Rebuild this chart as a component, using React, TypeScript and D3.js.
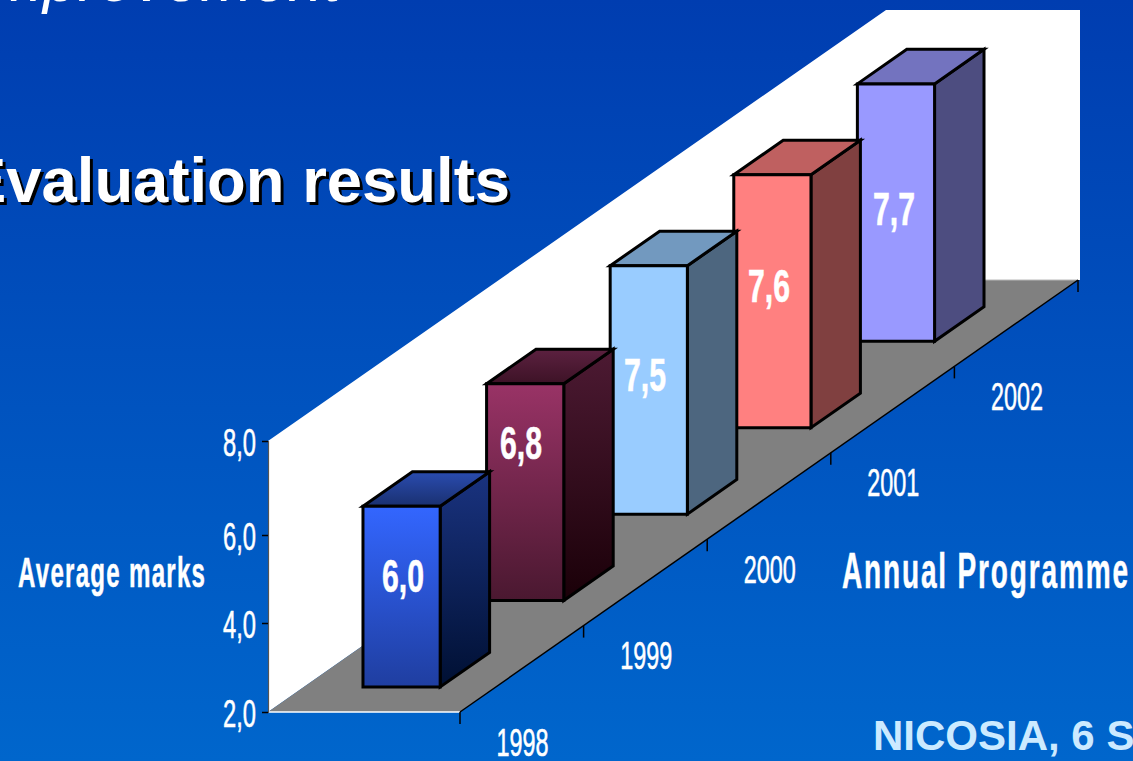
import * as d3 from "d3";
import { useEffect, useRef } from "react";

const WIDTH = 1133;
const HEIGHT = 761;

const YEARS = ["1998", "1999", "2000", "2001", "2002"];
const MARKS = [6.0, 6.8, 7.5, 7.6, 7.7];
const MARK_TICKS = [2, 4, 6, 8];

// front, side and top shades of each bar, [start, end] top to bottom
const FRONT_SHADES = [
  ["#3366ff", "#1f3ea0"],
  ["#993366", "#4a1830"],
  ["#99ccff", "#99ccff"],
  ["#ff8080", "#ff8080"],
  ["#9999ff", "#9999ff"],
];
const SIDE_SHADES = [
  ["#1a3380", "#001033"],
  ["#4d1a33", "#1a0008"],
  ["#4d667f", "#4d667f"],
  ["#804040", "#804040"],
  ["#4d4d80", "#4d4d80"],
];
const TOP_SHADES = [
  ["#2a4cb0", "#1a3070"],
  ["#5c2140", "#3d1226"],
  ["#7299bf", "#7299bf"],
  ["#bf6060", "#bf6060"],
  ["#7373bf", "#7373bf"],
];

// hand placed in the original slide, so not centred on the bars
const LABEL_CENTERS = [403, 521, 645, 769, 894];
const LABEL_BASELINES = [592, 459, 391, 302, 225];

const floorFront = { left: 268, right: 460, y: 712 };
const depth = { dx: 618, dy: -432 };

export default function App() {
  const ref = useRef<SVGSVGElement>(null);

  useEffect(() => {
    if (!ref.current) return;
    const svg = d3.select(ref.current);
    svg.selectAll("*").remove();

    // the printed axis is slightly uneven, the bars follow the straight scale
    const yAxisScale = d3.scaleLinear().domain(MARK_TICKS).range([712, 623, 535, 441]);
    const y = d3.scaleLinear().domain([2, 8]).range([0, 271]);
    const across = d3.scaleLinear().domain([0, 1]).range([0, floorFront.right - floorFront.left]);
    const along = d3
      .scaleBand()
      .domain(YEARS)
      .range([-0.002, 0.998])
      .paddingInner(0.6)
      .paddingOuter(0.3);
    const step = d3.scaleLinear().domain([0, YEARS.length]).range([0, 1]);

    // u across the floor, v into the depth, h height in px
    const project = (u: number, v: number, h = 0): [number, number] => [
      floorFront.left + across(u) + v * depth.dx,
      floorFront.y + v * depth.dy - h,
    ];
    const poly = (pts: [number, number][]) => d3.line()(pts) + "Z";

    const defs = svg.append("defs");
    const gradient = (id: string, stops: string[]) => {
      const g = defs.append("linearGradient").attr("id", id).attr("x1", 0).attr("x2", 0).attr("y1", 0).attr("y2", 1);
      stops.forEach((c, i) => g.append("stop").attr("offset", i).attr("stop-color", c));
    };
    gradient("bg", ["#003db0", "#0066cc"]);
    MARKS.forEach((_, i) => {
      gradient(`front${i}`, FRONT_SHADES[i]);
      gradient(`side${i}`, SIDE_SHADES[i]);
      gradient(`top${i}`, TOP_SHADES[i]);
    });

    svg.append("rect").attr("width", WIDTH).attr("height", HEIGHT).attr("fill", "url(#bg)");

    const sans = "'Liberation Sans', Arial, sans-serif";

    svg
      .append("text")
      .attr("x", -27)
      .attr("y", 1)
      .attr("fill", "#fff")
      .attr("font-family", sans)
      .attr("font-style", "italic")
      .attr("font-size", 63)
      .text("Improvement");

    const title = svg.append("g").attr("font-family", sans).attr("font-weight", "bold").attr("font-size", 63.4);
    title.append("text").attr("x", -33).attr("y", 205).attr("fill", "#000").text("Evaluation results");
    title.append("text").attr("x", -36).attr("y", 202).attr("fill", "#fff").text("Evaluation results");

    svg
      .append("text")
      .attr("x", 873)
      .attr("y", 750)
      .attr("fill", "#cceaff")
      .attr("font-family", sans)
      .attr("font-weight", "bold")
      .attr("font-size", 42)
      .text("NICOSIA, 6 S");

    // wall
    const wallTop = 10;
    const wallBackX = floorFront.left + depth.dx;
    const wallBackY = floorFront.y + depth.dy;
    const wallBottomRight = project(1, 1);
    svg
      .append("path")
      .attr(
        "d",
        poly([
          [floorFront.left, yAxisScale(8)],
          [wallBackX, wallTop],
          [wallBottomRight[0] + 2, wallTop],
          [wallBottomRight[0] + 2, wallBackY],
          [wallBackX, wallBackY],
          project(0, 0),
        ])
      )
      .attr("fill", "#fff");

    // floor
    svg
      .append("path")
      .attr("d", poly([project(0, 0), project(1, 0), project(1, 1), project(0, 1)]))
      .attr("fill", "#808080");
    svg
      .append("path")
      .attr("d", d3.line()([project(0, 1), project(1, 1)]))
      .attr("stroke", "#b8b8b8")
      .attr("fill", "none");
    svg
      .append("path")
      .attr("d", d3.line()([project(0, 0), project(1, 0)]))
      .attr("stroke", "#fff")
      .attr("stroke-width", 1.5);
    svg
      .append("path")
      .attr("d", d3.line()([project(1, 0), project(1, 1)]))
      .attr("stroke", "#000")
      .attr("stroke-width", 1.5);

    // depth axis ticks
    d3.range(YEARS.length + 1).forEach((i) => {
      const [tx, ty] = project(1, step(i));
      svg
        .append("line")
        .attr("x1", tx)
        .attr("x2", tx)
        .attr("y1", ty)
        .attr("y2", ty + 12)
        .attr("stroke", "#000")
        .attr("stroke-width", 1.5);
    });

    // value axis
    const yAxis = svg
      .append("g")
      .attr("transform", `translate(${floorFront.left},0)`)
      .call(
        d3
          .axisLeft(yAxisScale)
          .tickValues(MARK_TICKS)
          .tickSize(6)
          .tickPadding(6)
          .tickFormat((d) => (d as number).toFixed(1).replace(".", ","))
      );
    yAxis.select(".domain").attr("stroke", "#555").attr("stroke-width", 1.2);
    yAxis.selectAll(".tick line").attr("stroke", "#000").attr("stroke-width", 1.5);
    yAxis
      .selectAll<SVGTextElement, number>(".tick text")
      .attr("fill", "#fff")
      .attr("stroke", "#fff")
      .attr("stroke-width", 0.6)
      .attr("font-family", sans)
      .attr("font-size", 39)
      .attr("dy", 14.5)
      .attr("textLength", 33)
      .attr("lengthAdjust", "spacingAndGlyphs");

    // bars, back to front so the nearer ones overlap
    const barU: [number, number] = [0.308, 0.71];
    const band = along.bandwidth();
    const bars = svg
      .append("g")
      .selectAll("g")
      .data(MARKS.map((value, i) => ({ value, i, year: YEARS[i] })).reverse())
      .join("g")
      .attr("stroke", "#000")
      .attr("stroke-width", 3)
      .attr("stroke-linejoin", "miter");

    bars
      .append("path")
      .attr("fill", (d) => `url(#side${d.i})`)
      .attr("d", (d) => {
        const v = along(d.year) ?? 0;
        const h = y(d.value);
        return poly([project(barU[1], v, h), project(barU[1], v + band, h), project(barU[1], v + band), project(barU[1], v)]);
      });
    bars
      .append("path")
      .attr("fill", (d) => `url(#top${d.i})`)
      .attr("d", (d) => {
        const v = along(d.year) ?? 0;
        const h = y(d.value);
        return poly([project(barU[0], v, h), project(barU[0], v + band, h), project(barU[1], v + band, h), project(barU[1], v, h)]);
      });
    bars
      .append("path")
      .attr("fill", (d) => `url(#front${d.i})`)
      .attr("d", (d) => {
        const v = along(d.year) ?? 0;
        const h = y(d.value);
        return poly([project(barU[0], v, h), project(barU[1], v, h), project(barU[1], v), project(barU[0], v)]);
      });
    bars
      .append("text")
      .attr("x", (d) => LABEL_CENTERS[d.i])
      .attr("y", (d) => LABEL_BASELINES[d.i])
      .attr("text-anchor", "middle")
      .attr("stroke", "#fff")
      .attr("stroke-width", 0.6)
      .attr("fill", "#fff")
      .attr("font-family", sans)
      .attr("font-weight", "bold")
      .attr("font-size", 47)
      .attr("textLength", 42)
      .attr("lengthAdjust", "spacingAndGlyphs")
      .text((d) => d.value.toFixed(1).replace(".", ","));

    // year labels under the depth axis
    svg
      .append("g")
      .selectAll("text")
      .data(YEARS)
      .join("text")
      .attr("x", (d) => project(1, (along(d) ?? 0) + band / 2)[0] + 2)
      .attr("y", (d) => project(1, (along(d) ?? 0) + band / 2)[1] + 86)
      .attr("text-anchor", "middle")
      .attr("fill", "#fff")
      .attr("stroke", "#fff")
      .attr("stroke-width", 0.6)
      .attr("font-family", sans)
      .attr("font-size", 39)
      .attr("textLength", 52)
      .attr("lengthAdjust", "spacingAndGlyphs")
      .text((d) => d);

    // axis titles: squeezed glyphs but open letter spacing, so scale then space
    const axisTitle = (text: string, x: number, baseline: number, size: number, width: number, squeeze: number) =>
      svg
        .append("text")
        .attr("transform", `translate(${x},${baseline}) scale(${squeeze},1)`)
        .attr("fill", "#fff")
        .attr("stroke", "#fff")
        .attr("stroke-width", 0.5)
        .attr("font-family", sans)
        .attr("font-weight", "bold")
        .attr("font-size", size)
        .attr("textLength", width / squeeze)
        .attr("lengthAdjust", "spacing")
        .text(text);
    axisTitle("Average marks", 18, 587, 43, 187, 0.56);
    axisTitle("Annual Programme", 842, 588, 50, 286, 0.56);
  }, []);

  return (
    <svg
      ref={ref}
      width={WIDTH}
      height={HEIGHT}
      style={{ position: "absolute", left: 0, top: 0, display: "block" }}
    />
  );
}
